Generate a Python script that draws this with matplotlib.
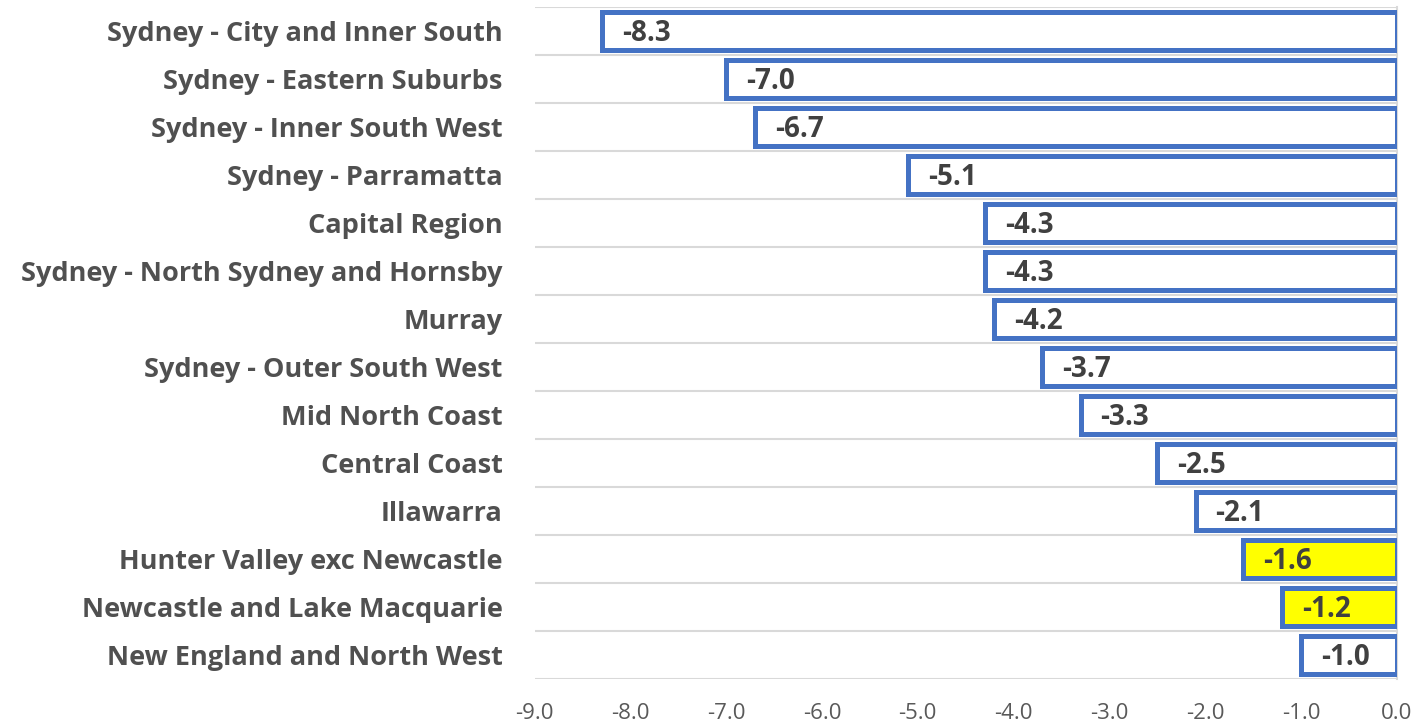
import matplotlib.pyplot as plt
from matplotlib.transforms import offset_copy

regions = ['Sydney - City and Inner South', 'Sydney - Eastern Suburbs', 'Sydney - Inner South West',
           'Sydney - Parramatta', 'Capital Region', 'Sydney - North Sydney and Hornsby', 'Murray',
           'Sydney - Outer South West', 'Mid North Coast', 'Central Coast', 'Illawarra',
           'Hunter Valley exc Newcastle', 'Newcastle and Lake Macquarie', 'New England and North West']
values = [-8.3, -7.0, -6.7, -5.1, -4.3, -4.3, -4.2, -3.7, -3.3, -2.5, -2.1, -1.6, -1.2, -1.0]
highlight = ['Hunter Valley exc Newcastle', 'Newcastle and Lake Macquarie']
xticks = [-9.0, -8.0, -7.0, -6.0, -5.0, -4.0, -3.0, -2.0, -1.0, 0.0]

plt.rcParams['font.family'] = ['Open Sans', 'DejaVu Sans']

fig, ax = plt.subplots(figsize=(14.18, 7.24), dpi=100)
fig.subplots_adjust(left=0.377, right=0.985, top=0.99, bottom=0.062)

ypos = list(range(len(regions)))
colors = ['#FFFF00' if r in highlight else 'white' for r in regions]
ax.barh(ypos, values, height=0.8, color=colors, edgecolor='#4472C4', linewidth=3.6, zorder=3)

for y, v in zip(ypos, values):
    t = offset_copy(ax.transData, fig=fig, x=20, y=-2, units='dots')
    ax.text(v, y, f'{v:.1f}', transform=t, ha='left', va='center',
            fontsize=20, fontweight='bold', color='#404040', zorder=4)

ax.set_xlim(-9, 0)
ax.set_ylim(len(regions) - 0.5, -0.5)
ax.set_xticks(xticks)
ax.set_xticklabels([f'{x:.1f}' for x in xticks], color='#595959', fontsize=16)
ax.set_yticks(ypos)
ax.set_yticklabels(regions, fontsize=19.5, fontweight='bold', color='#505050')
ax.tick_params(axis='y', length=0, pad=23)
ax.tick_params(axis='x', length=0, pad=17)

# gridlines between categories
for b in range(len(regions) + 1):
    ax.axhline(b - 0.5, color='#D9D9D9', linewidth=1.5, zorder=1)

for s in ['top', 'left', 'bottom']:
    ax.spines[s].set_visible(False)
ax.spines['right'].set_color('#D9D9D9')
ax.spines['right'].set_linewidth(1.5)

fig.savefig('out.png')
